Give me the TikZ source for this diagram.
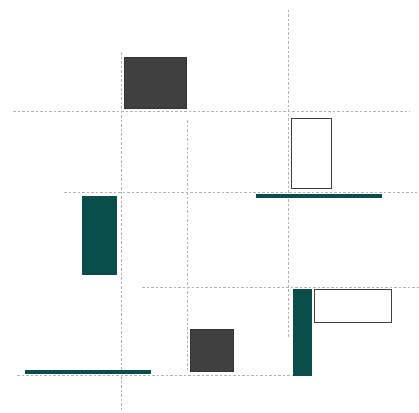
\documentclass[tikz,border=0pt]{standalone}
\definecolor{teal}{RGB}{10,78,76}
\definecolor{darkbox}{RGB}{64,64,64}
\definecolor{guide}{RGB}{180,180,180}
\begin{document}
\begin{tikzpicture}[x=1pt,y=-1pt,
  guideline/.style={draw=guide,line width=0.6pt,dash pattern=on 2.5pt off 2pt},
  darkblock/.style={fill=darkbox,draw=darkbox!80!black,line width=0.5pt},
  tealblock/.style={fill=teal,draw=teal,line width=0.5pt},
  openblock/.style={fill=white,draw=darkbox,line width=0.9pt}]
\useasboundingbox (0,0) rectangle (419,412);
% guide lines
\draw[guideline] (121,52) -- (121,410);
\draw[guideline] (187,120) -- (187,372);
\draw[guideline] (288,10) -- (288,338);
\draw[guideline] (13,111) -- (410,111);
\draw[guideline] (64,192) -- (417,192);
\draw[guideline] (142,287) -- (419,287);
\draw[guideline] (17,375) -- (292,375);
% blocks
\draw[darkblock] (124,57) rectangle (186,108);
\draw[openblock] (291,118) rectangle (331,188);
\draw[tealblock] (256,194) rectangle (381,197);
\draw[tealblock] (82,196) rectangle (116,274);
\draw[tealblock] (25,370) rectangle (150,373);
\draw[darkblock] (190,329) rectangle (233,371);
\draw[tealblock] (293,289) rectangle (311,375);
\draw[openblock] (314,289) rectangle (391,322);
\end{tikzpicture}
\end{document}
